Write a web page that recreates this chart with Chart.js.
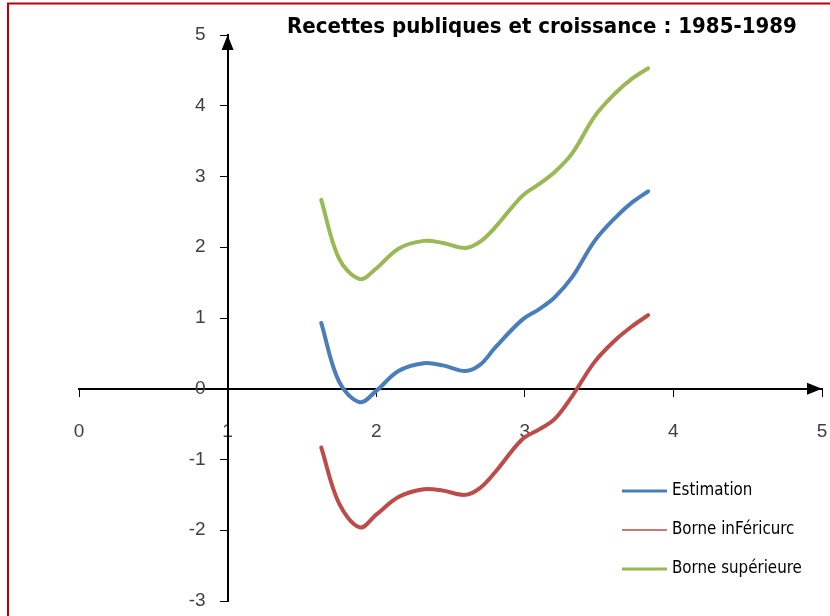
<!DOCTYPE html>
<html>
<head>
<meta charset="utf-8">
<script src="https://cdn.jsdelivr.net/npm/chart.js@4.4.0/dist/chart.umd.min.js"></script>
<style>
  html, body { margin: 0; padding: 0; background: #fff; }
  #wrap { position: relative; width: 830px; height: 616px; }
</style>
</head>
<body>
<div id="wrap"><canvas id="chart" width="830" height="616"></canvas></div>
<script>
// values
const xValues    = [1.63, 1.75, 1.89, 2.0, 2.15, 2.32, 2.45, 2.6, 2.7, 2.8, 2.98, 3.1, 3.2, 3.32, 3.47, 3.61, 3.72, 3.83];
const estimation = [0.93, 0.10, -0.19, -0.03, 0.25, 0.36, 0.33, 0.25, 0.34, 0.58, 0.97, 1.13, 1.29, 1.58, 2.09, 2.42, 2.63, 2.79];
const borneInf   = [-0.83, -1.62, -1.96, -1.78, -1.53, -1.42, -1.44, -1.50, -1.40, -1.18, -0.72, -0.57, -0.43, -0.10, 0.38, 0.69, 0.88, 1.04];
const borneSup   = [2.67, 1.84, 1.55, 1.70, 1.98, 2.09, 2.06, 1.99, 2.08, 2.28, 2.72, 2.90, 3.06, 3.33, 3.85, 4.18, 4.38, 4.53];
const seriesNames = ['Estimation', 'Borne inFéricurc', 'Borne supérieure'];
const chartTitle = 'Recettes publiques et croissance : 1985-1989';

const BLUE = '#4a7ebb', RED = '#be4b48', GREEN = '#98b954';
const TICK_FONT = "'Liberation Sans', Arial, sans-serif";
const TEXT_FONT = "'Liberation Sans Narrow', 'DejaVu Sans Condensed', 'Liberation Sans', sans-serif";

function toPoints(ys) {
  return xValues.map((x, i) => ({ x: x, y: ys[i] }));
}

function fitFont(ctx, text, weight, family, targetWidth) {
  let size = 30;
  ctx.font = weight + ' ' + size + 'px ' + family;
  const w = ctx.measureText(text).width;
  size = size * targetWidth / w;
  return weight + ' ' + size.toFixed(2) + 'px ' + family;
}

// y labels of an axis placed at x=1 sit right on the line: push them left a bit
const yLabelShift = {
  id: 'yLabelShift',
  beforeDraw(chart) {
    const s = chart.scales.y;
    if (!s || s._shifted) return;
    const orig = s.drawLabels.bind(s);
    s.drawLabels = function (area) {
      const c = this.ctx;
      c.save(); c.translate(-22, 0); orig(area); c.restore();
    };
    s._shifted = true;
  }
};

const decorPlugin = {
  id: 'decor',
  afterDraw(chart) {
    const ctx = chart.ctx;
    const xs = chart.scales.x, ys = chart.scales.y;
    ctx.save();

    // red frame (top and left edges visible)
    ctx.strokeStyle = '#c00000';
    ctx.lineWidth = 2;
    ctx.beginPath();
    ctx.moveTo(8, 640); ctx.lineTo(8, 3.5); ctx.lineTo(840, 3.5);
    ctx.stroke();

    // axis arrows
    const ax = xs.getPixelForValue(1), ay = ys.getPixelForValue(0);
    const top = ys.getPixelForValue(5), right = xs.getPixelForValue(5);
    ctx.fillStyle = '#000';
    ctx.beginPath();
    ctx.moveTo(ax, top); ctx.lineTo(ax - 6, top + 15); ctx.lineTo(ax + 6, top + 15);
    ctx.closePath(); ctx.fill();
    ctx.beginPath();
    ctx.moveTo(right, ay); ctx.lineTo(right - 15, ay - 6); ctx.lineTo(right - 15, ay + 6);
    ctx.closePath(); ctx.fill();

    // title
    ctx.fillStyle = '#000';
    ctx.textBaseline = 'middle';
    ctx.textAlign = 'left';
    ctx.font = fitFont(ctx, chartTitle, 'bold', TEXT_FONT, 510);
    ctx.fillText(chartTitle, 287, 27);

    // legend
    const colors = [BLUE, RED, GREEN], widths = [3, 1.5, 3], rows = [491, 530, 569];
    ctx.font = fitFont(ctx, seriesNames[2], 'normal', TEXT_FONT, 130);
    seriesNames.forEach((name, i) => {
      ctx.strokeStyle = colors[i];
      ctx.lineWidth = widths[i];
      ctx.beginPath();
      ctx.moveTo(622, rows[i]); ctx.lineTo(667, rows[i]);
      ctx.stroke();
      ctx.fillStyle = '#000';
      ctx.fillText(name, 672, rows[i]);
    });
    ctx.restore();
  }
};

const lineDefaults = { borderWidth: 4, pointRadius: 0, tension: 0.35, fill: false, borderCapStyle: 'round', borderJoinStyle: 'round' };

new Chart(document.getElementById('chart'), {
  type: 'line',
  data: {
    datasets: [
      Object.assign({ label: seriesNames[0], data: toPoints(estimation), borderColor: BLUE }, lineDefaults),
      Object.assign({ label: seriesNames[1], data: toPoints(borneInf), borderColor: RED }, lineDefaults),
      Object.assign({ label: seriesNames[2], data: toPoints(borneSup), borderColor: GREEN }, lineDefaults)
    ]
  },
  options: {
    responsive: false,
    animation: false,
    layout: { padding: { left: 79, right: 8, top: 35, bottom: 15 } },
    plugins: { legend: { display: false }, title: { display: false }, tooltip: { enabled: false } },
    scales: {
      x: {
        type: 'linear', min: 0, max: 5,
        position: { y: 0 },
        afterFit: s => { s.paddingLeft = 0; s.paddingRight = 0; s.paddingTop = 0; s.paddingBottom = 0; },
        grid: { drawOnChartArea: false, drawTicks: true, tickLength: 7, color: '#000', tickWidth: 1 },
        border: { display: true, color: '#000', width: 2 },
        ticks: { stepSize: 1, padding: 25, color: '#404040', font: { family: TICK_FONT, size: 19 } }
      },
      y: {
        type: 'linear', min: -3, max: 5,
        position: { x: 1 },
        afterFit: s => { s.paddingLeft = 0; s.paddingRight = 0; s.paddingTop = 0; s.paddingBottom = 0; },
        grid: { drawOnChartArea: false, drawTicks: true, tickLength: 7, color: '#000', tickWidth: 1 },
        border: { display: true, color: '#000', width: 2 },
        ticks: { stepSize: 1, color: '#404040', font: { family: TICK_FONT, size: 19 } }
      }
    }
  },
  plugins: [yLabelShift, decorPlugin]
});
</script>
</body>
</html>
